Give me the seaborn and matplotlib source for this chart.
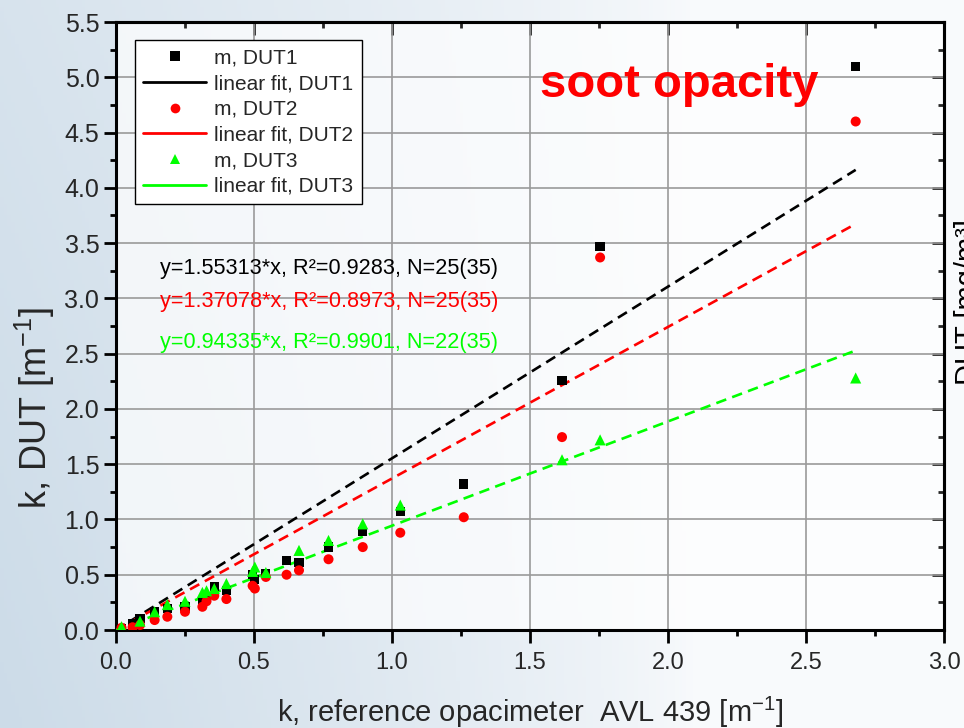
import numpy as np
import matplotlib
matplotlib.use("Agg")
import matplotlib.pyplot as plt
from matplotlib.lines import Line2D
from matplotlib.ticker import MultipleLocator, FormatStrFormatter
import pandas as pd
import seaborn as sns

# Extinction coefficient k from the reference opacimeter (AVL 439), m^-1
k_ref = [0.02, 0.06, 0.087, 0.14, 0.186, 0.25, 0.313, 0.328, 0.356, 0.40,
         0.495, 0.503, 0.543, 0.618, 0.663, 0.77, 0.894, 1.03, 1.26,
         1.616, 1.754, 2.68]
# Measured k for each device under test (NaN where no reading)
k_dut1 = [0.01, 0.06, 0.105, 0.17, 0.196, 0.21, 0.27, 0.30, 0.39, 0.355,
          0.50, 0.46, 0.51, 0.63, 0.61, 0.75, 0.89, 1.07, 1.32,
          2.26, 3.47, 5.10]
k_dut2 = [0.02, 0.025, 0.045, 0.09, 0.12, 0.165, 0.21, 0.26, 0.31, 0.28,
          0.40, 0.375, 0.48, 0.50, 0.54, 0.64, 0.75, 0.88, 1.02,
          1.745, 3.37, 4.60]
k_dut3 = [0.03, np.nan, 0.08, 0.165, 0.23, 0.26, 0.34, 0.355, 0.375, 0.42,
          0.53, 0.57, 0.52, np.nan, 0.72, 0.81, 0.96, 1.13, np.nan,
          1.54, 1.72, 2.28]

devices = ["DUT1", "DUT2", "DUT3"]
slopes = [1.55313, 1.37078, 0.94335]
r_squared = ["0.9283", "0.8973", "0.9901"]
n_points = ["25(35)", "25(35)", "22(35)"]
fit_x_end = 2.68

colors = ["#000000", "#ff0000", "#00ff00"]
markers = ["s", "o", "^"]
marker_sizes = [44, 52, 64]

df = pd.DataFrame({"k_ref": k_ref, "DUT1": k_dut1, "DUT2": k_dut2, "DUT3": k_dut3})
long_df = df.melt(id_vars="k_ref", var_name="device", value_name="k_dut").dropna()

sns.set_theme(style="white")
plt.rcParams["font.family"] = ["Liberation Sans", "DejaVu Sans"]
plt.rcParams["mathtext.fontset"] = "custom"
plt.rcParams["mathtext.rm"] = "Liberation Sans"

fig = plt.figure(figsize=(9.64, 7.28), dpi=100)

# pale blue backdrop fading to white toward the right
bg = fig.add_axes([0, 0, 1, 1], zorder=0)
H, W = 200, 260
xx, yy = np.meshgrid(np.linspace(0, 1, W), np.linspace(0, 1, H))
w = np.clip((0.72 - xx) / 0.72, 0, 1) ** 0.7 * (0.75 + 0.25 * yy)
c_blue = np.array([0.80, 0.86, 0.91])
c_white = np.array([0.975, 0.982, 0.99])
img = c_white[None, None, :] * (1 - w[..., None]) + c_blue[None, None, :] * w[..., None]
bg.imshow(img, aspect="auto", extent=[0, 1, 0, 1], origin="upper")
bg.set_axis_off()

left, right, bottom, top = 116 / 964, 944 / 964, 1 - 630 / 728, 1 - 22 / 728
ax = fig.add_axes([left, bottom, right - left, top - bottom], zorder=1)
ax.set_facecolor((1, 1, 1, 0.7))

for dev, col, mk, ms, slope in zip(devices, colors, markers, marker_sizes, slopes):
    sub = long_df[long_df["device"] == dev]
    sns.scatterplot(data=sub, x="k_ref", y="k_dut", ax=ax, color=col, marker=mk,
                    s=ms, edgecolor="none", linewidth=0, zorder=4, legend=False)
    fx = np.array([0.0, fit_x_end])
    sns.lineplot(x=fx, y=slope * fx, ax=ax, color=col, lw=1.9,
                 linestyle=(0, (4, 2.4)), zorder=3, legend=False)

ax.set_xlim(0, 3.0)
ax.set_ylim(0, 5.5)
ax.xaxis.set_major_locator(MultipleLocator(0.5))
ax.xaxis.set_minor_locator(MultipleLocator(0.25))
ax.yaxis.set_major_locator(MultipleLocator(0.5))
ax.yaxis.set_minor_locator(MultipleLocator(0.25))
ax.xaxis.set_major_formatter(FormatStrFormatter("%.1f"))
ax.yaxis.set_major_formatter(FormatStrFormatter("%.1f"))
ax.grid(True, which="major", color="#9a9a9a", lw=1.2)
ax.set_axisbelow(True)

for sp in ax.spines.values():
    sp.set_linewidth(2.2)
    sp.set_color("black")
    sp.set_visible(True)

ax.tick_params(axis="both", which="major", direction="out", length=9, width=2,
               color="black", bottom=True, left=True)
ax.tick_params(axis="both", which="minor", direction="out", length=4.5, width=2,
               color="black", bottom=True, left=True)
ax.tick_params(axis="x", which="major", labelsize=17, pad=7)
ax.tick_params(axis="y", which="major", labelsize=18, pad=3)

secx = ax.secondary_xaxis("top")
secx.xaxis.set_major_locator(MultipleLocator(0.5))
secx.xaxis.set_minor_locator(MultipleLocator(0.25))
secx.tick_params(which="major", direction="in", length=9, width=2, labeltop=False)
secx.tick_params(which="minor", direction="in", length=4.5, width=2, labeltop=False)
secx.spines["top"].set_linewidth(2.2)
secy = ax.secondary_yaxis("right")
secy.yaxis.set_major_locator(MultipleLocator(0.5))
secy.yaxis.set_minor_locator(MultipleLocator(0.25))
secy.tick_params(which="major", direction="in", length=9, width=2, labelright=False)
secy.tick_params(which="minor", direction="in", length=4.5, width=2, labelright=False)
secy.spines["right"].set_linewidth(2.2)

ax.set_xlabel(r"k, reference opacimeter  AVL 439 [m$^{-1}$]", fontsize=21)
ax.xaxis.set_label_coords(0.5, -0.106)
ax.set_ylabel(r"k, DUT [m$^{-1}$]", fontsize=26)
ax.yaxis.set_label_coords(-0.071, 0.365)

# legend: markers for measurements, solid lines for fits
handles, labels = [], []
for dev, col, mk in zip(devices, colors, markers):
    handles.append(Line2D([], [], ls="none", marker=mk, color=col, markersize=7,
                          markeredgewidth=0))
    labels.append(f"m, {dev}")
    handles.append(Line2D([], [], ls="-", color=col, lw=2))
    labels.append(f"linear fit, {dev}")
leg = ax.legend(handles, labels, loc="upper left", bbox_to_anchor=(0.023, 0.970),
                borderaxespad=0, fontsize=15, frameon=True, fancybox=False,
                framealpha=1, edgecolor="black", handlelength=3.0,
                handletextpad=0.4, labelspacing=0.32, borderpad=0.4)
leg.get_frame().set_linewidth(1.0)
leg.set_zorder(6)

# regression equations
eq_y = [3.27, 2.97, 2.60]
for slope, r2, n, col, yv in zip(slopes, r_squared, n_points, colors, eq_y):
    ax.text(0.16, yv, f"y={slope:.5f}*x, R²={r2}, N={n}", color=col,
            fontsize=15.6, va="center", ha="left", zorder=5)

ax.text(1.536, 4.93, "soot opacity", color="#ff0000", fontsize=34,
        fontweight="bold", va="center", ha="left", zorder=5)

# neighbouring panel's axis title at the right edge
fig.text(0.990, 0.471, "DUT [mg/m³]", rotation=90, ha="left", va="bottom",
         fontsize=21, color="black")

fig.savefig("out.png", dpi=100)
